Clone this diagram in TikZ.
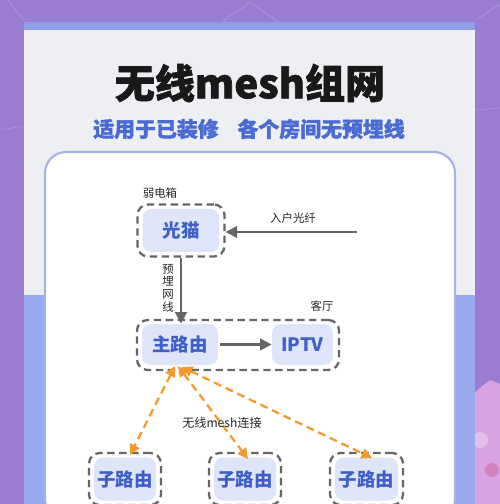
\documentclass[tikz,border=0pt]{standalone}
\usepackage{fontspec}
\newfontfamily\cjk{Noto Sans CJK SC}
\newfontfamily\cjkheavy[BoldFeatures={FakeBold=1.6}]{Noto Sans CJK SC}
\usetikzlibrary{arrows.meta}
\definecolor{bgpurple}{HTML}{9A7DD2}
\definecolor{bgline}{HTML}{A690DA}
\definecolor{cardgrey}{HTML}{EEEFF3}
\definecolor{cardblue}{HTML}{98A9EE}
\definecolor{bandblue}{HTML}{8E9FE8}
\definecolor{panelborder}{HTML}{A7B1E4}
\definecolor{boxfill}{HTML}{DFE5F8}
\definecolor{tblue}{HTML}{3F5FC6}
\definecolor{subblue}{HTML}{4A6BD2}
\definecolor{dgray}{HTML}{666666}
\definecolor{orangec}{HTML}{F39A2B}
\definecolor{pinkc}{HTML}{D9A3E3}
\tikzset{
  dashbox/.style={draw=dgray, line width=1.3pt, dash pattern=on 4.2pt off 2.6pt,
    rounded corners=6pt, inner sep=0pt},
  fillbox/.style={fill=boxfill, rounded corners=5pt, inner sep=0pt, text=tblue,
    font=\cjk\bfseries\fontsize{10.5}{12}\selectfont},
  smalllabel/.style={font=\cjk\fontsize{6.5}{7.2}\selectfont, text=black!85, inner sep=0pt},
  grayarrow/.style={draw=dgray, line width=1.4pt, -{Triangle[length=6.5pt,width=6.5pt]}},
  mesharrow/.style={draw=orangec, line width=1.3pt, dash pattern=on 4.5pt off 2.8pt,
    {Triangle[length=6pt,width=6pt]}-{Triangle[length=6pt,width=6pt]}}
}
\begin{document}
\begin{tikzpicture}[x=0.02cm,y=-0.02cm]
\useasboundingbox (0,0) rectangle (500,504);
% background
\fill[bgpurple] (0,0) rectangle (500,504);
\draw[bgline, line width=0.6pt] (222,22) -- (250,2) -- (278,22);
\draw[bgline, line width=0.6pt] (8,0) -- (24,20);
\draw[bgline, line width=0.6pt] (476,20) -- (500,4);
\draw[bgline, line width=0.5pt] (0,130) -- (24,126);
\draw[bgline, line width=0.5pt] (476,110) -- (500,108);
\fill[pinkc] (475,392) -- (490,380) -- (500,384) -- (500,504) -- (475,504) -- cycle;
\fill[pinkc!70!white] (480,440) circle (8);
\fill[pinkc!80!purple] (492,470) circle (7);
% card
\fill[bandblue] (24,22) rectangle (475,30);
\fill[cardgrey] (24,30) rectangle (475,295);
\fill[cardblue] (24,295) rectangle (475,504);
% inner panel
\draw[panelborder, fill=white, line width=1.2pt, rounded corners=12pt]
  (45,152) -- (45,520) -- (455,520) -- (455,152) -- cycle;
% titles
\node[font=\cjkheavy\bfseries\fontsize{22.8}{26}\selectfont, text=black!90, inner sep=0pt]
  (title) at (250,83) {无线mesh组网};
\node[font=\cjkheavy\bfseries\fontsize{11.9}{14}\selectfont, text=subblue, inner sep=0pt]
  (subtitle) at (249,129) {适用于已装修\hspace{0.9em}各个房间无预埋线};
% optical modem
\node[dashbox, minimum width=1.74cm, minimum height=1.04cm] (gmbox) at (181,230.5) {};
\node[fillbox, minimum width=1.54cm, minimum height=0.86cm] (gm) at (181,230.5) {光猫};
\node[smalllabel] (ruodian) at (160,193) {弱电箱};
% fiber in
\coordinate (fiberin) at (357,232);
\draw[grayarrow] (fiberin) -- (gmbox.east |- fiberin);
\node[smalllabel] (fiberlbl) at (293,218) {入户光纤};
% living room
\node[dashbox, minimum width=4.04cm, minimum height=1.0cm] (lrbox) at (238,345) {};
\node[fillbox, minimum width=1.52cm, minimum height=0.82cm] (main) at (180,344.5) {主路由};
\node[fillbox, minimum width=1.22cm, minimum height=0.82cm] (iptv) at (302.5,344.5) {IPTV};
\node[smalllabel] (keting) at (322,306) {客厅};
% cable
\draw[grayarrow] (gmbox.south) -- (gmbox.south |- main.north);
\node[smalllabel, align=center] (cable) at (168,288) {预\\埋\\网\\线};
\draw[grayarrow] (main.east) ++(2,0) coordinate (mainE) (mainE) -- (iptv.west);
% sub routers
\node[dashbox, minimum width=1.44cm, minimum height=1.04cm] (s1box) at (125,479) {};
\node[fillbox, minimum width=1.24cm, minimum height=0.86cm] (s1) at (125,479) {子路由};
\node[dashbox, minimum width=1.44cm, minimum height=1.04cm] (s2box) at (245,479) {};
\node[fillbox, minimum width=1.24cm, minimum height=0.86cm] (s2) at (245,479) {子路由};
\node[dashbox, minimum width=1.46cm, minimum height=1.04cm] (s3box) at (366.5,479) {};
\node[fillbox, minimum width=1.26cm, minimum height=0.86cm] (s3) at (366.5,479) {子路由};
% mesh links
\coordinate (m1) at (175,366);
\coordinate (m2) at (178,366);
\coordinate (m3) at (182,367);
\coordinate (t1) at (130,455);
\coordinate (t2) at (248,459);
\coordinate (t3) at (372,458);
\draw[mesharrow] (m1) -- (t1);
\draw[mesharrow] (m2) -- (t2);
\draw[mesharrow] (m3) -- (t3);
\node[smalllabel, font=\cjk\fontsize{6.9}{7.6}\selectfont] (meshlbl) at (222,423) {无线mesh连接};
\end{tikzpicture}
\end{document}
